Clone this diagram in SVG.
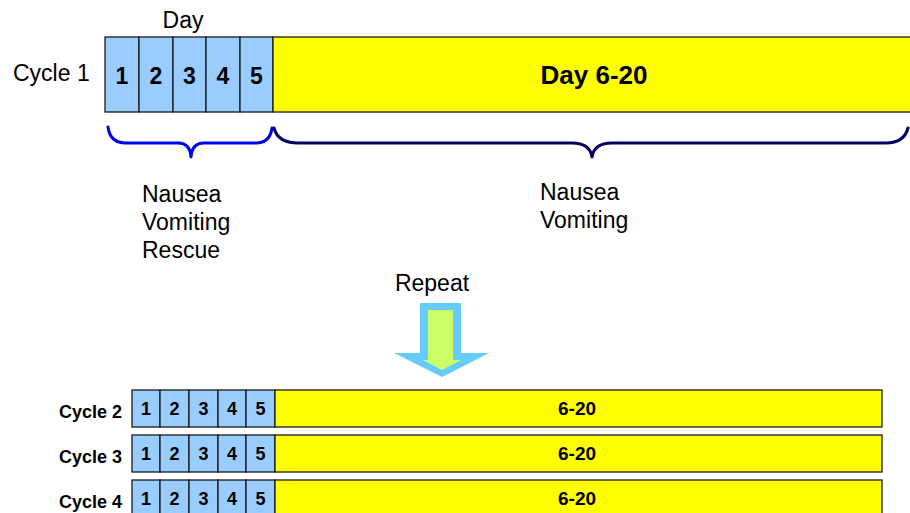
<svg xmlns="http://www.w3.org/2000/svg" width="910" height="513" viewBox="0 0 910 513">
<style>
text{font-family:"Liberation Sans",Arial,sans-serif;fill:#000}
.day{fill:#99ccff;stroke:#1a1a1a;stroke-width:1.3}
.rest{fill:#ffff00;stroke:#1a1a1a;stroke-width:1.3}
.big{font-size:23px;font-weight:bold;text-anchor:middle}
.title{font-size:26px;font-weight:bold;text-anchor:middle}
.sm{font-size:18px;font-weight:bold;text-anchor:middle}
.rng{font-size:19px;font-weight:bold;text-anchor:middle}
.lbl{font-size:18px;font-weight:bold;text-anchor:end}
.plain{font-size:23px}
.brace{fill:none;stroke-width:3;stroke-linecap:round;stroke-linejoin:round}
</style>
<rect width="910" height="513" fill="#fff"/>

<g id="cycle1">
  <text class="plain" x="183" y="28" text-anchor="middle">Day</text>
  <text class="plain" x="13" y="81">Cycle 1</text>
  <rect class="day" x="105" y="37" width="34" height="75"/>
  <rect class="day" x="139" y="37" width="34" height="75"/>
  <rect class="day" x="173" y="37" width="33" height="75"/>
  <rect class="day" x="206" y="37" width="34" height="75"/>
  <rect class="day" x="240" y="37" width="33" height="75"/>
  <rect class="rest" x="273" y="37" width="640" height="75"/>
  <text class="big" x="122" y="84">1</text>
  <text class="big" x="156" y="84">2</text>
  <text class="big" x="189.5" y="84">3</text>
  <text class="big" x="223" y="84">4</text>
  <text class="big" x="256.5" y="84">5</text>
  <text class="title" x="594" y="84">Day 6-20</text>
</g>

<g id="connectors">
  <path class="brace" stroke="#0000ee" d="M108,127 Q110,143 126,143 L178,143 Q190,143 191,157 Q192,143 204,143 L256,143 Q270,143 272,128"/>
  <path class="brace" stroke="#000066" d="M274,128 Q278,143 298,143 L572,143 Q590,143 592,157 Q594,143 612,143 L886,143 Q904,143 908,128"/>
</g>

<g id="label-early">
  <text class="plain" x="142" y="202">Nausea</text>
  <text class="plain" x="142" y="230">Vomiting</text>
  <text class="plain" x="142" y="258">Rescue</text>
</g>
<g id="label-late">
  <text class="plain" x="540" y="200">Nausea</text>
  <text class="plain" x="540" y="228">Vomiting</text>
</g>

<g id="repeat">
  <text class="plain" x="432" y="291" text-anchor="middle">Repeat</text>
  <polygon fill="#66ccff" points="420,303 461,303 461,353 489,353 442,377 394,353 420,353"/>
  <polygon fill="#ccff66" points="428,310 453,310 453,360 461,360 442,370 423,360 428,360"/>
</g>

<g id="cycle2">
  <text class="lbl" x="122" y="418">Cycle 2</text>
  <rect class="day" x="132" y="390" width="28" height="37"/>
  <rect class="day" x="160" y="390" width="29" height="37"/>
  <rect class="day" x="189" y="390" width="29" height="37"/>
  <rect class="day" x="218" y="390" width="28" height="37"/>
  <rect class="day" x="246" y="390" width="29" height="37"/>
  <rect class="rest" x="275" y="390" width="607" height="37"/>
  <text class="sm" x="146" y="415">1</text>
  <text class="sm" x="174.5" y="415">2</text>
  <text class="sm" x="203.5" y="415">3</text>
  <text class="sm" x="232" y="415">4</text>
  <text class="sm" x="260.5" y="415">5</text>
  <text class="rng" x="577" y="415">6-20</text>
</g>

<g id="cycle3">
  <text class="lbl" x="122" y="463">Cycle 3</text>
  <rect class="day" x="132" y="435" width="28" height="37"/>
  <rect class="day" x="160" y="435" width="29" height="37"/>
  <rect class="day" x="189" y="435" width="29" height="37"/>
  <rect class="day" x="218" y="435" width="28" height="37"/>
  <rect class="day" x="246" y="435" width="29" height="37"/>
  <rect class="rest" x="275" y="435" width="607" height="37"/>
  <text class="sm" x="146" y="460">1</text>
  <text class="sm" x="174.5" y="460">2</text>
  <text class="sm" x="203.5" y="460">3</text>
  <text class="sm" x="232" y="460">4</text>
  <text class="sm" x="260.5" y="460">5</text>
  <text class="rng" x="577" y="460">6-20</text>
</g>

<g id="cycle4">
  <text class="lbl" x="122" y="508">Cycle 4</text>
  <rect class="day" x="132" y="480" width="28" height="37"/>
  <rect class="day" x="160" y="480" width="29" height="37"/>
  <rect class="day" x="189" y="480" width="29" height="37"/>
  <rect class="day" x="218" y="480" width="28" height="37"/>
  <rect class="day" x="246" y="480" width="29" height="37"/>
  <rect class="rest" x="275" y="480" width="607" height="37"/>
  <text class="sm" x="146" y="505">1</text>
  <text class="sm" x="174.5" y="505">2</text>
  <text class="sm" x="203.5" y="505">3</text>
  <text class="sm" x="232" y="505">4</text>
  <text class="sm" x="260.5" y="505">5</text>
  <text class="rng" x="577" y="505">6-20</text>
</g>
</svg>
